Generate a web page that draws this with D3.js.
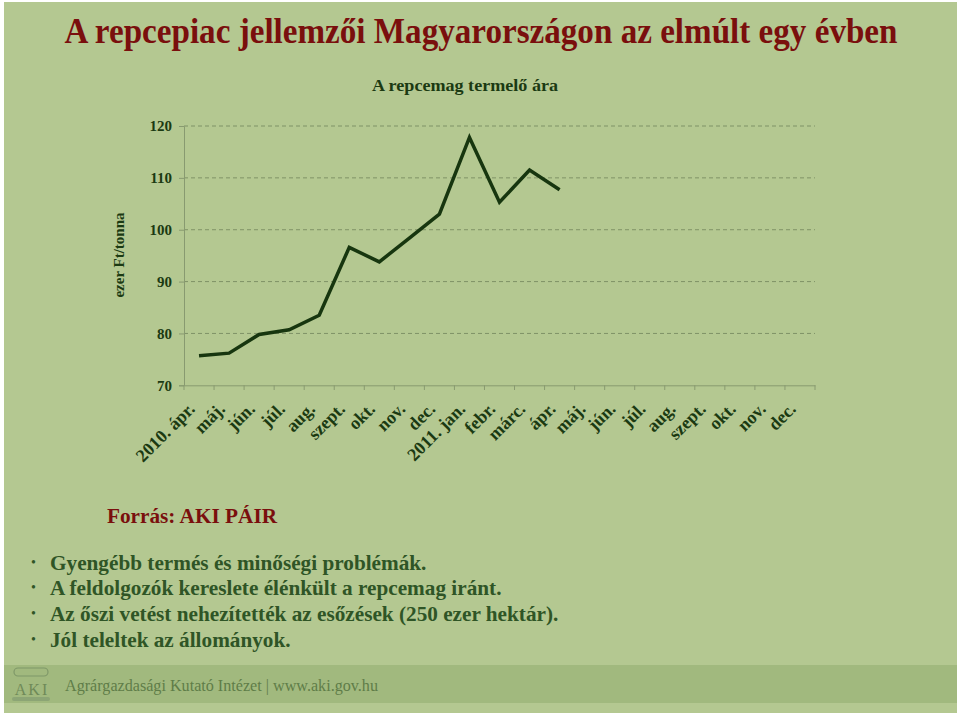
<!DOCTYPE html>
<html><head><meta charset="utf-8">
<script src="https://cdn.jsdelivr.net/npm/d3@7"></script>
<style>html,body{margin:0;padding:0;background:#fff;}svg{display:block;}</style>
</head><body>
<svg id="chart" width="960" height="716"></svg>
<script>
const categories = ["2010. ápr.","máj.","jún.","júl.","aug.","szept.","okt.","nov.","dec.","2011. jan.","febr.","márc.","ápr.","máj.","jún.","júl.","aug.","szept.","okt.","nov.","dec."];
const prices = [75.7,76.2,79.8,80.7,83.5,96.6,93.8,98.4,103.0,117.8,105.3,111.5,107.7];
const yTicks = [70,80,90,100,110,120];
const title = "A repcepiac jellemzői Magyarországon az elmúlt egy évben";
const subtitle = "A repcemag termelő ára";
const yLabel = "ezer Ft/tonna";
const source = "Forrás: AKI PÁIR";
const bullets = ["Gyengébb termés és minőségi problémák.","A feldolgozók kereslete élénkült a repcemag iránt.","Az őszi vetést nehezítették az esőzések (250 ezer hektár).","Jól teleltek az állományok."];
const footer = "Agrárgazdasági Kutató Intézet | www.aki.gov.hu";

const svg = d3.select("#chart");
const serif = "'Liberation Serif','Times New Roman',serif";
const dark = "#1b3a12";

svg.append("rect").attr("x",4).attr("y",2).attr("width",953).attr("height",711).attr("fill","#b4c891");
svg.append("rect").attr("x",4).attr("y",665).attr("width",953).attr("height",38).attr("fill","#a1b97e");

svg.append("text").attr("x",481).attr("y",43).attr("text-anchor","middle")
  .attr("font-family",serif).attr("font-weight","bold").attr("font-size",35)
  .attr("fill","#7a0f0d").attr("textLength",833).attr("lengthAdjust","spacingAndGlyphs").text(title);
svg.append("text").attr("x",465).attr("y",91).attr("text-anchor","middle")
  .attr("font-family",serif).attr("font-weight","bold").attr("font-size",17)
  .attr("fill",dark).attr("textLength",186).attr("lengthAdjust","spacingAndGlyphs").text(subtitle);

const x = d3.scaleBand().domain(d3.range(categories.length)).range([184,815]);
const y = d3.scaleLinear().domain([70,120]).range([385.3,126]);

const g = svg.append("g");
g.selectAll("line.grid").data(yTicks.filter(t=>t>70)).join("line")
  .attr("x1",184).attr("x2",815).attr("y1",d=>y(d)).attr("y2",d=>y(d))
  .attr("stroke","#7f9266").attr("stroke-width",1).attr("stroke-dasharray","4,3");

const yAxis = g.append("g").attr("transform","translate(184,0)")
  .call(d3.axisLeft(y).tickValues(yTicks).tickSize(5).tickPadding(7));
yAxis.select(".domain").attr("stroke","#889a70");
yAxis.selectAll(".tick line").attr("stroke","#889a70");
yAxis.selectAll(".tick text").attr("font-family",serif).attr("font-weight","bold")
  .attr("font-size",15).attr("fill",dark);

const xAxis = g.append("g").attr("transform","translate(0,385.3)")
  .call(d3.axisBottom(x).tickSize(0).tickFormat(""));
xAxis.select(".domain").attr("stroke","#889a70");
const bounds = d3.range(categories.length+1).map(i=> i<categories.length ? x(i) : x(i-1)+x.bandwidth());
g.selectAll("line.xt").data(bounds).join("line")
  .attr("x1",d=>d).attr("x2",d=>d).attr("y1",385.3).attr("y2",390)
  .attr("stroke","#889a70");
g.selectAll("text.xl").data(categories).join("text")
  .attr("transform",(d,i)=>`translate(${x(i)+x.bandwidth()/2-3},${410}) rotate(-45)`)
  .attr("text-anchor","end").attr("font-family",serif).attr("font-weight","bold")
  .attr("font-size",18).attr("fill",dark).text(d=>d);

svg.append("text").attr("transform","translate(124,255) rotate(-90)").attr("text-anchor","middle")
  .attr("font-family",serif).attr("font-weight","bold").attr("font-size",15).attr("fill",dark).text(yLabel);

const line = d3.line().x((d,i)=>x(i)+x.bandwidth()/2).y(d=>y(d));
g.append("path").datum(prices).attr("d",line).attr("fill","none")
  .attr("stroke","#17360f").attr("stroke-width",3.5).attr("stroke-linejoin","miter");

svg.append("text").attr("x",107).attr("y",523).attr("font-family",serif).attr("font-weight","bold")
  .attr("font-size",21).attr("fill","#7a0f0d").attr("textLength",170).attr("lengthAdjust","spacingAndGlyphs").text(source);

const by = [570,595,621,647];
bullets.forEach((b,i)=>{
  svg.append("text").attr("x",31).attr("y",by[i]-3).attr("font-family",serif).attr("font-size",14)
    .attr("fill","#2f5526").text("•");
  const t = svg.append("text").attr("x",50).attr("y",by[i]).attr("font-family",serif).attr("font-weight","bold")
    .attr("font-size",22).attr("fill","#2f5526").text(b);
  const w = t.node().getComputedTextLength();
  t.attr("textLength", w*0.965).attr("lengthAdjust","spacingAndGlyphs");
});

const lg = svg.append("g");
lg.append("rect").attr("x",14).attr("y",668).attr("width",34).attr("height",8).attr("rx",4)
  .attr("fill","none").attr("stroke","#7f9868").attr("stroke-width",1.2);
lg.append("text").attr("x",32).attr("y",695).attr("text-anchor","middle").attr("font-family",serif)
  .attr("font-size",16).attr("fill","#6f8a58").attr("letter-spacing",2).text("AKI");
lg.append("rect").attr("x",12).attr("y",697).attr("width",38).attr("height",4).attr("rx",2).attr("fill","#8ca575");
svg.append("text").attr("x",65).attr("y",691).attr("font-family",serif).attr("font-size",16)
  .attr("fill","#5f7d48").attr("textLength",313).attr("lengthAdjust","spacingAndGlyphs").text(footer);
</script>
</body></html>
